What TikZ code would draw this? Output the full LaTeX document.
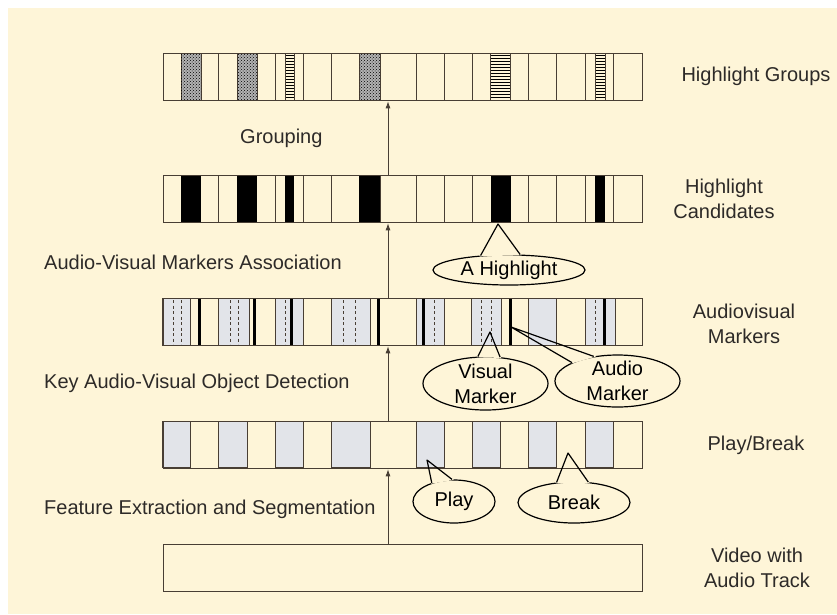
\documentclass[tikz,border=0pt]{standalone}
\usepackage{fontspec}
\setmainfont{Liberation Sans}
\usetikzlibrary{shapes.geometric,patterns,arrows.meta}

\definecolor{cream}{RGB}{254,245,216}
\definecolor{barline}{RGB}{72,62,52}
\definecolor{speck}{RGB}{226,228,233}
\definecolor{txt}{RGB}{45,42,40}

\tikzset{
	bar/.style={draw=barline, line width=1.3pt, minimum width=479pt, minimum height=47pt, anchor=north west, inner sep=0pt},
	callout/.style={ellipse, draw=black, line width=1.2pt, inner sep=-6pt, align=center, text=black},
	stage/.style={anchor=west, inner sep=0pt, text=txt},
	layer/.style={align=center, inner sep=0pt, text=txt},
	divline/.style={draw=barline, line width=1pt},
	upflow/.style={-{Latex[length=7pt,width=5pt]}, line width=0.8pt, draw=barline},
	leg/.style={line width=1.2pt, line join=round},
}

\begin{document}
\begin{tikzpicture}[x=1pt, y=-1pt, font=\fontsize{20}{25}\selectfont]

	\useasboundingbox (0,0) rectangle (837,614);
	\fill[cream] (8,8) rectangle (837,614);

	% callouts
	\node[callout, minimum width=152pt, minimum height=30pt] (hl) at (509,270) {A Highlight};
	\node[callout, minimum width=125pt, minimum height=53pt] (vis) at (485.5,383.5) {Visual\\Marker};
	\node[callout, minimum width=125pt, minimum height=52pt] (aud) at (617.5,381) {Audio\\Marker};
	\node[callout, minimum width=82pt, minimum height=43pt] (play) at (454,501.5) {Play};
	\node[callout, minimum width=112pt, minimum height=41pt] (brk) at (574,502.5) {Break};

	\coordinate (hltip) at (498,224);
	\coordinate (vistip) at (490,332);
	\coordinate (audtip) at (511,327);
	\coordinate (playtip) at (427,460);
	\coordinate (brktip) at (568,453);

	% open the ellipses where the pointers join
	\foreach \c/\a/\b in {hl/153/54, vis/106/61, aud/158/134, play/140/95, brk/131/55}
		\filldraw[cream, line width=1.5pt] (\c tip) -- (\c.\a) -- (\c.\b) -- cycle;

	%draw highlight groups
	\foreach \a/\b in {181/201, 237.3/257.3, 359.3/380}
		\filldraw[fill=black!30, draw=barline, line width=0.6pt] (\a,53) rectangle (\b,100);
	\foreach \a/\b in {181/201, 237.3/257.3, 359.3/380}
		\fill[pattern=crosshatch dots, pattern color=black] (\a,53) rectangle (\b,100);
	\foreach \a/\b in {285/294.3, 490.7/510.7, 595/605}
		\filldraw[pattern=horizontal lines, pattern color=black, draw=barline, line width=0.6pt] (\a,53) rectangle (\b,100);
	\foreach \x in {218.3, 275, 303.3, 331.7, 380, 416.7, 444, 472.3, 528.3, 556.7, 585, 613.3}
		\draw[divline] (\x,53) -- (\x,100);
	\node[bar] (groups) at (162.7,53) {};

	%draw highlight candidates
	\foreach \a/\b in {181/201, 237.3/257.3, 285/294.3, 359.3/380, 490.7/510.7, 595/605}
		\fill[black] (\a,175) rectangle (\b,222);
	\foreach \x in {218.3, 275, 303.3, 331.7, 380, 416.7, 444, 472.3, 528.3, 556.7, 585, 613.3}
		\draw[divline] (\x,175) -- (\x,222);
	\node[bar] (cands) at (162.7,175) {};

	%draw audiovisual markers
	\foreach \a/\b in {162.7/190, 218.3/249, 275/303.3, 331.7/370, 416.7/444, 471.7/501.7, 528.3/556.7, 585/615}
		\filldraw[fill=speck, divline] (\a,298) rectangle (\b,345);
	\foreach \x in {173.3, 181.7, 230, 238.3, 285, 343.3, 355, 434.3, 481.7, 491.7, 595}
		\draw[barline, line width=0.9pt, dash pattern=on 3pt off 2.5pt] (\x,300) -- (\x,344);
	\foreach \x in {199.3, 254.3, 291.7, 378.3, 423.3, 510, 604.3}
		\draw[black, line width=3pt] (\x,298) -- (\x,345);
	\node[bar] (markers) at (162.7,298) {};

	%draw play/break
	\foreach \a/\b in {162.7/190.7, 218.3/247.3, 275/303.3, 331.7/370, 416.7/444, 472.3/500, 528.3/556.7, 585/613.3}
		\filldraw[fill=speck, divline] (\a,421) rectangle (\b,467);
	\node[bar] (pb) at (162.7,421) {};

	%draw video
	\node[bar] (video) at (162.7,544) {};

	% pointers
	\foreach \c/\a/\b in {hl/153/54, vis/106/61, aud/158/134, play/140/95, brk/131/55}
		\draw[leg] (\c.\a) -- (\c tip) -- (\c.\b);

	% flow arrows
	\coordinate (axis) at (388,0);
	\draw[upflow] (video.north -| axis) -- (pb.south -| axis);
	\draw[upflow] (pb.north -| axis) -- (markers.south -| axis);
	\draw[upflow] (markers.north -| axis) -- (cands.south -| axis);
	\draw[upflow] (cands.north -| axis) -- (groups.south -| axis);

	% stage labels
	\node[stage] (grouping) at (240,138) {Grouping};
	\node[stage] (assoc) at (44,262) {Audio-Visual Markers Association};
	\node[stage] (detect) at (44,383) {Key Audio-Visual Object Detection};
	\node[stage] (extract) at (44,509) {Feature Extraction and Segmentation};

	% layer labels
	\node[layer] (lgroups) at (756,76) {Highlight Groups};
	\node[layer] (lcands) at (724,199) {Highlight\\Candidates};
	\node[layer] (lmarkers) at (744,324) {Audiovisual\\Markers};
	\node[layer] (lpb) at (756,445) {Play/Break};
	\node[layer] (lvideo) at (757,568) {Video with\\Audio Track};

\end{tikzpicture}
\end{document}
